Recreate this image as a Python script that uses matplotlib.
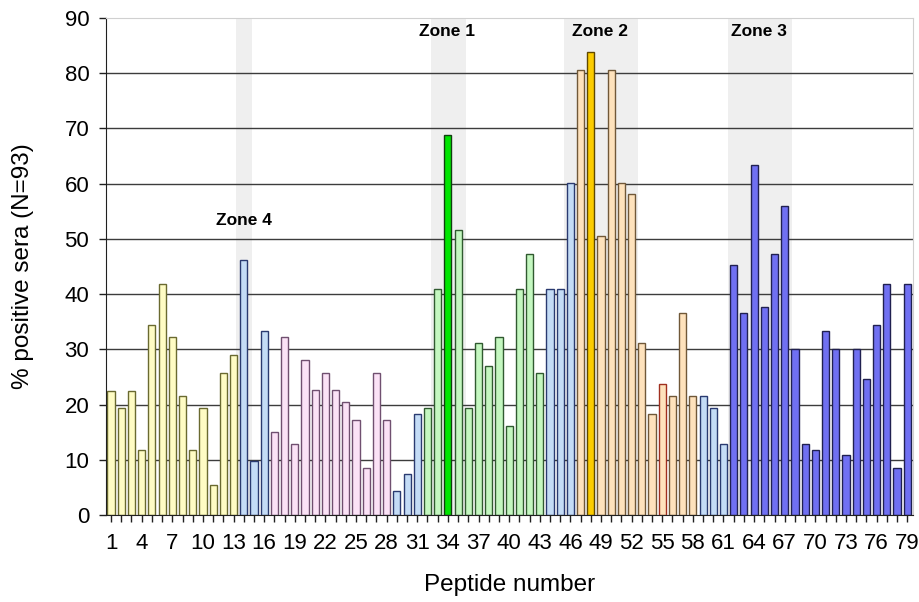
import matplotlib
matplotlib.use("Agg")
import matplotlib.pyplot as plt
import numpy as np

plt.rcParams['font.family'] = ['Liberation Sans', 'DejaVu Sans']

# peptide numbers and % positive sera
peptides = list(range(1, 80))
values = [22.5, 19.4, 22.5, 11.8, 34.4, 41.9, 32.3, 21.5, 11.8, 19.4,
          5.4, 25.8, 29.0, 46.2, 9.7, 33.3, 15.1, 32.3, 12.9, 28.0,
          22.6, 25.8, 22.6, 20.4, 17.2, 8.6, 25.8, 17.2, 4.3, 7.5,
          18.3, 19.4, 40.9, 68.8, 51.6, 19.4, 31.2, 26.9, 32.3, 16.1,
          40.9, 47.3, 25.8, 40.9, 40.9, 60.2, 80.6, 83.9, 50.5, 80.6,
          60.2, 58.1, 31.2, 18.3, 23.7, 21.5, 36.6, 21.5, 21.5, 19.4,
          12.9, 45.2, 36.6, 63.4, 37.6, 47.3, 55.9, 30.1, 12.9, 11.8,
          33.3, 30.1, 10.8, 30.1, 24.7, 34.4, 41.9, 8.6, 41.9]

# group of each peptide (for colouring)
groups = (['yellow'] * 13 + ['lblue'] * 3 + ['pink'] * 12 + ['lblue'] * 3 +
          ['green'] * 2 + ['zone1'] + ['green'] * 9 + ['lblue'] * 3 +
          ['peach'] + ['zone2'] + ['peach'] * 10 + ['lblue'] * 3 +
          ['blue'] * 18)

zone_names = ['Zone 4', 'Zone 1', 'Zone 2', 'Zone 3']
zone_spans = [(13.2, 14.85), (32.3, 35.75), (45.4, 52.6), (61.4, 67.7)]
zone_label_x = [14, 33.9, 48.9, 64.5]
zone_label_y = [53.3, 87.6, 87.6, 87.6]

face = {'yellow': '#fffcc4', 'lblue': '#c4dcf6', 'pink': '#fbe2f6',
        'green': '#c4f7c0', 'zone1': '#00e600', 'peach': '#fee2bc',
        'zone2': '#fccc00', 'blue': '#7070f2'}
edge = {'yellow': '#6a6a30', 'lblue': '#2a3a70', 'pink': '#705070',
        'green': '#305a30', 'zone1': '#104010', 'peach': '#705838',
        'zone2': '#604800', 'blue': '#202050'}

fig = plt.figure(figsize=(9.19, 6.02), dpi=100)
ax = fig.add_axes([0.1153, 0.1445, 0.878, 0.8255])

for (a, b) in zone_spans:
    ax.axvspan(a, b, color='#efefef', zorder=0, lw=0)

for y in range(10, 90, 10):
    ax.axhline(y, color='#3c3c3c', lw=1.0, zorder=1)

fc = [face[g] for g in groups]
ec = [edge[g] for g in groups]
ec[54] = '#a03020'
ax.bar(peptides, values, width=0.7, color=fc, edgecolor=ec, linewidth=1.0, zorder=2)

for name, x, y in zip(zone_names, zone_label_x, zone_label_y):
    ax.text(x, y, name, ha='center', va='center', fontsize=12.5, fontweight='bold', zorder=3)

ax.set_xlim(0.5, 79.55)
ax.set_ylim(0, 90)
ax.set_yticks(range(0, 91, 10))
ax.set_xticks(peptides)
ax.set_xticklabels([str(p) if (p - 1) % 3 == 0 else '' for p in peptides])
ax.tick_params(axis='both', labelsize=16, direction='out', length=5, width=1, color='#202020')
ax.tick_params(axis='x', pad=8)
ax.tick_params(axis='y', pad=7)

ax.spines['left'].set_color('#202020')
ax.spines['bottom'].set_color('#202020')
ax.spines['top'].set_color('#d0d0d0')
ax.spines['right'].set_color('#d0d0d0')

ax.set_xlabel('Peptide number', fontsize=17.5, labelpad=14)
ax.set_ylabel('% positive sera (N=93)', fontsize=17.5, labelpad=22)

fig.savefig('out.png', dpi=100)
